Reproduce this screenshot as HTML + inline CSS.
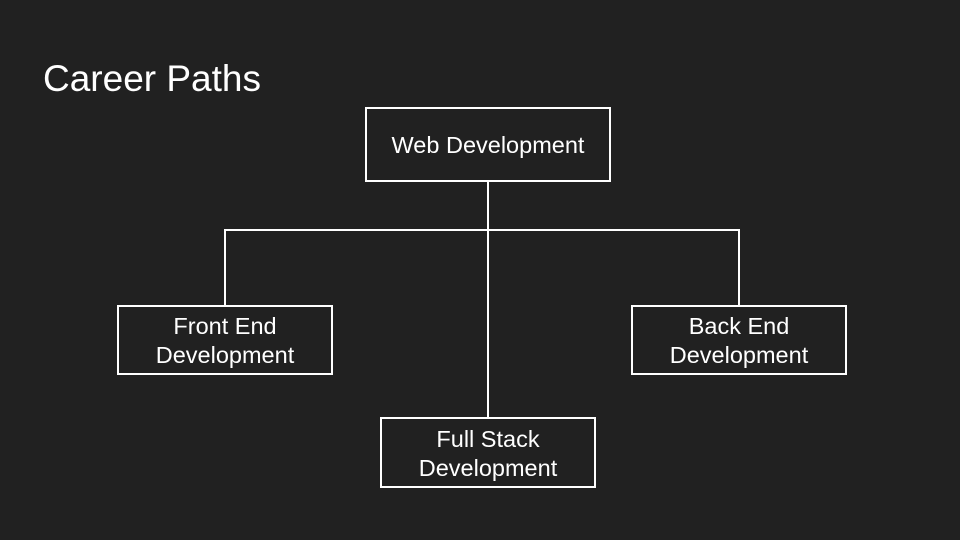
<!DOCTYPE html>
<html><head><style>
body{margin:0;width:960px;height:540px;background:#212121;overflow:hidden;font-family:"Liberation Sans",sans-serif;}
svg{position:absolute;left:0;top:0}
text{fill:#fff;font-family:"Liberation Sans",sans-serif;}
</style></head><body>
<svg width="960" height="540">
<text x="43" y="91" font-size="37">Career Paths</text>
<g stroke="#fff" stroke-width="2" fill="none">
<rect x="366" y="108" width="244" height="73"/>
<rect x="118" y="306" width="214" height="68"/>
<rect x="632" y="306" width="214" height="68"/>
<rect x="381" y="418" width="214" height="69"/>
<line x1="488" y1="181" x2="488" y2="418"/>
<polyline points="225,306 225,230 739,230 739,306"/>
</g>
<g font-size="23.5" text-anchor="middle">
<text x="488" y="153">Web Development</text>
<text x="225" y="334">Front End</text>
<text x="225" y="363">Development</text>
<text x="739" y="334">Back End</text>
<text x="739" y="363">Development</text>
<text x="488" y="447">Full Stack</text>
<text x="488" y="476">Development</text>
</g>
</svg>
</body></html>
